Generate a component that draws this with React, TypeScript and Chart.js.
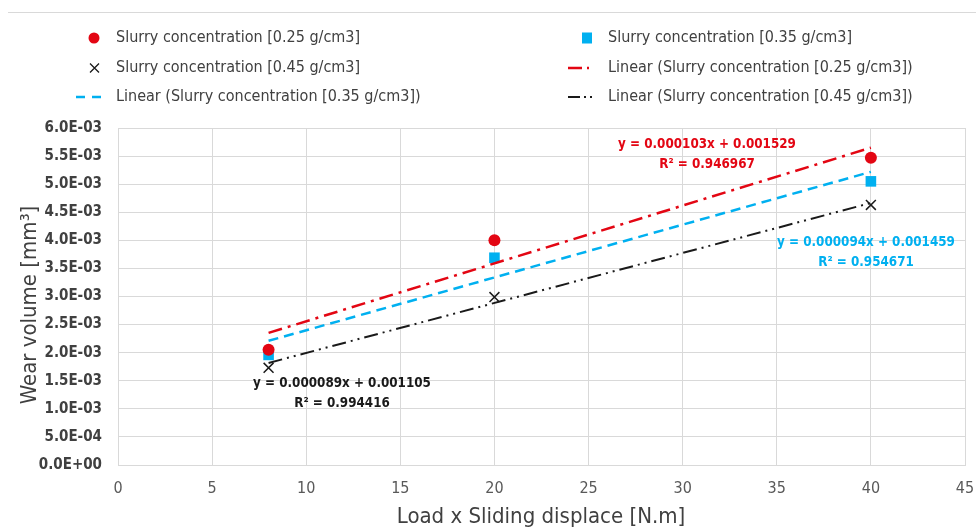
import React, { useEffect, useRef } from "react";
import { Chart, registerables } from "chart.js";

Chart.register(...registerables);

const xValues = [8, 20, 40];
const wear025 = [2.05e-3, 4.0e-3, 5.47e-3];
const wear035 = [1.96e-3, 3.69e-3, 5.05e-3];
const wear045 = [1.73e-3, 2.99e-3, 4.63e-3];
const trendX = [8, 40];
const trend025 = [2.353e-3, 5.649e-3];
const trend035 = [2.211e-3, 5.219e-3];
const trend045 = [1.817e-3, 4.665e-3];
const xTicksMax = 45;
const yTicksMax = 0.006;

const seriesNames = [
  "Slurry concentration [0.25 g/cm3]",
  "Slurry concentration [0.35 g/cm3]",
  "Slurry concentration [0.45 g/cm3]",
  "Linear (Slurry concentration [0.25 g/cm3])",
  "Linear (Slurry concentration [0.35 g/cm3])",
  "Linear (Slurry concentration [0.45 g/cm3])",
];

const RED = "#e30613";
const BLUE = "#00b0f0";
const BLACK = "#1a1a1a";
const FONT = "'Liberation Sans Narrow', 'DejaVu Sans Condensed', 'Liberation Sans', sans-serif";

function fmtExp(v: number): string {
  if (Math.abs(v) < 1e-12) return "0.0E+00";
  const s = v.toExponential(1);
  const [m, e] = s.split("e");
  const sign = e[0] === "-" ? "-" : "+";
  const num = e.replace(/^[+-]/, "").padStart(2, "0");
  return `${m}E${sign}${num}`;
}

const overlay = {
  id: "overlay",
  afterDraw(chart: any) {
    const ctx = chart.ctx as CanvasRenderingContext2D;
    ctx.save();
    // top border line
    ctx.strokeStyle = "#d9d9d9";
    ctx.lineWidth = 1;
    ctx.beginPath();
    ctx.moveTo(8, 12.5);
    ctx.lineTo(976, 12.5);
    ctx.stroke();

    // legend
    ctx.font = `16px ${FONT}`;
    ctx.textBaseline = "middle";
    ctx.textAlign = "left";
    ctx.fillStyle = "#404040";
    const rows = [38, 68, 97];
    const c1 = 116;
    const c2 = 608;
    ctx.fillText(seriesNames[0], c1, rows[0]);
    ctx.fillText(seriesNames[1], c2, rows[0]);
    ctx.fillText(seriesNames[2], c1, rows[1]);
    ctx.fillText(seriesNames[3], c2, rows[1]);
    ctx.fillText(seriesNames[4], c1, rows[2]);
    ctx.fillText(seriesNames[5], c2, rows[2]);
    // red circle
    ctx.fillStyle = RED;
    ctx.beginPath();
    ctx.arc(94, rows[0], 5.5, 0, Math.PI * 2);
    ctx.fill();
    // blue square
    ctx.fillStyle = BLUE;
    ctx.fillRect(582, rows[0] - 5.5, 10, 11);
    // cross
    ctx.strokeStyle = BLACK;
    ctx.lineWidth = 1.3;
    ctx.beginPath();
    ctx.moveTo(90, rows[1] - 4.5);
    ctx.lineTo(99, rows[1] + 4.5);
    ctx.moveTo(99, rows[1] - 4.5);
    ctx.lineTo(90, rows[1] + 4.5);
    ctx.stroke();
    // line samples
    ctx.lineWidth = 2.5;
    ctx.strokeStyle = RED;
    ctx.beginPath();
    ctx.moveTo(568, rows[1]);
    ctx.lineTo(582, rows[1]);
    ctx.moveTo(587, rows[1]);
    ctx.lineTo(589, rows[1]);
    ctx.stroke();
    ctx.strokeStyle = BLUE;
    ctx.beginPath();
    ctx.moveTo(76, rows[2]);
    ctx.lineTo(85, rows[2]);
    ctx.moveTo(92, rows[2]);
    ctx.lineTo(101, rows[2]);
    ctx.stroke();
    ctx.strokeStyle = BLACK;
    ctx.lineWidth = 2.2;
    ctx.beginPath();
    ctx.moveTo(568, rows[2]);
    ctx.lineTo(580, rows[2]);
    ctx.moveTo(584, rows[2]);
    ctx.lineTo(586, rows[2]);
    ctx.moveTo(590, rows[2]);
    ctx.lineTo(592, rows[2]);
    ctx.stroke();

    // trendline labels
    ctx.font = `bold 13.3px ${FONT}`;
    ctx.textAlign = "center";
    ctx.fillStyle = RED;
    ctx.fillText("y = 0.000103x + 0.001529", 707, 145);
    ctx.fillText("R² = 0.946967", 707, 165);
    ctx.fillStyle = BLUE;
    ctx.fillText("y = 0.000094x + 0.001459", 866, 243);
    ctx.fillText("R² = 0.954671", 866, 263);
    ctx.fillStyle = BLACK;
    ctx.fillText("y = 0.000089x + 0.001105", 342, 384);
    ctx.fillText("R² = 0.994416", 342, 404);

    // axis titles
    ctx.fillStyle = "#404040";
    ctx.font = `22px ${FONT}`;
    ctx.fillText("Load x Sliding displace [N.m]", 541, 517);
    ctx.translate(30, 305);
    ctx.rotate(-Math.PI / 2);
    ctx.fillText("Wear volume [mm³]", 0, 0);
    ctx.restore();
  },
};

export default function App() {
  const ref = useRef<HTMLCanvasElement | null>(null);
  useEffect(() => {
    if (!ref.current) return;
    const pts = (ys: number[]) => xValues.map((x, i) => ({ x, y: ys[i] }));
    const tl = (ys: number[]) => trendX.map((x, i) => ({ x, y: ys[i] }));
    const chart = new Chart(ref.current, {
      type: "scatter",
      data: {
        datasets: [
          {
            label: seriesNames[3],
            data: tl(trend025),
            showLine: true,
            borderColor: RED,
            borderWidth: 2.5,
            borderDash: [14, 6, 3, 6],
            pointRadius: 0,
            fill: false,
          },
          {
            label: seriesNames[4],
            data: tl(trend035),
            showLine: true,
            borderColor: BLUE,
            borderWidth: 2.5,
            borderDash: [10, 6],
            pointRadius: 0,
            fill: false,
          },
          {
            label: seriesNames[5],
            data: tl(trend045),
            showLine: true,
            borderColor: BLACK,
            borderWidth: 2,
            borderDash: [14, 5, 2, 5, 2, 5],
            pointRadius: 0,
            fill: false,
          },
          {
            label: seriesNames[0],
            data: pts(wear025),
            pointStyle: "circle",
            pointRadius: 6,
            backgroundColor: RED,
            borderColor: RED,
            borderWidth: 0,
          },
          {
            label: seriesNames[1],
            data: pts(wear035),
            pointStyle: "rect",
            pointRadius: 7.5,
            backgroundColor: BLUE,
            borderColor: BLUE,
            borderWidth: 0,
          },
          {
            label: seriesNames[2],
            data: pts(wear045),
            pointStyle: "crossRot",
            pointRadius: 7,
            backgroundColor: BLACK,
            borderColor: BLACK,
            borderWidth: 1.5,
          },
        ],
      },
      options: {
        animation: false,
        responsive: false,
        maintainAspectRatio: false,
        layout: { padding: { top: 128, right: 11, left: 0, bottom: 0 } },
        plugins: { legend: { display: false }, tooltip: { enabled: false } },
        scales: {
          x: {
            type: "linear",
            min: 0,
            max: xTicksMax,
            ticks: {
              stepSize: 5,
              padding: 14,
              color: "#595959",
              font: { family: FONT, size: 16 },
            },
            grid: { color: "#d9d9d9", drawTicks: false, lineWidth: 1 },
            border: { color: "#d9d9d9" },
            afterFit: (s: any) => {
              s.height = 66;
              s.paddingLeft = 0;
              s.paddingRight = 0;
            },
          },
          y: {
            type: "linear",
            min: 0,
            max: yTicksMax,
            ticks: {
              stepSize: 0.0005,
              padding: 16,
              color: "#404040",
              font: { family: FONT, size: 15, weight: "bold" },
              callback: (v: any) => fmtExp(Number(v)),
            },
            grid: { color: "#d9d9d9", drawTicks: false, lineWidth: 1 },
            border: { color: "#d9d9d9" },
            afterFit: (s: any) => {
              s.width = 118;
              s.paddingTop = 0;
              s.paddingBottom = 0;
            },
          },
        },
      },
      plugins: [overlay],
    });
    return () => chart.destroy();
  }, []);
  return (
    <div style={{ position: "fixed", left: 0, top: 0, width: 976, height: 531, background: "#fff" }}>
      <canvas ref={ref} width={976} height={531} style={{ width: 976, height: 531 }} />
    </div>
  );
}
